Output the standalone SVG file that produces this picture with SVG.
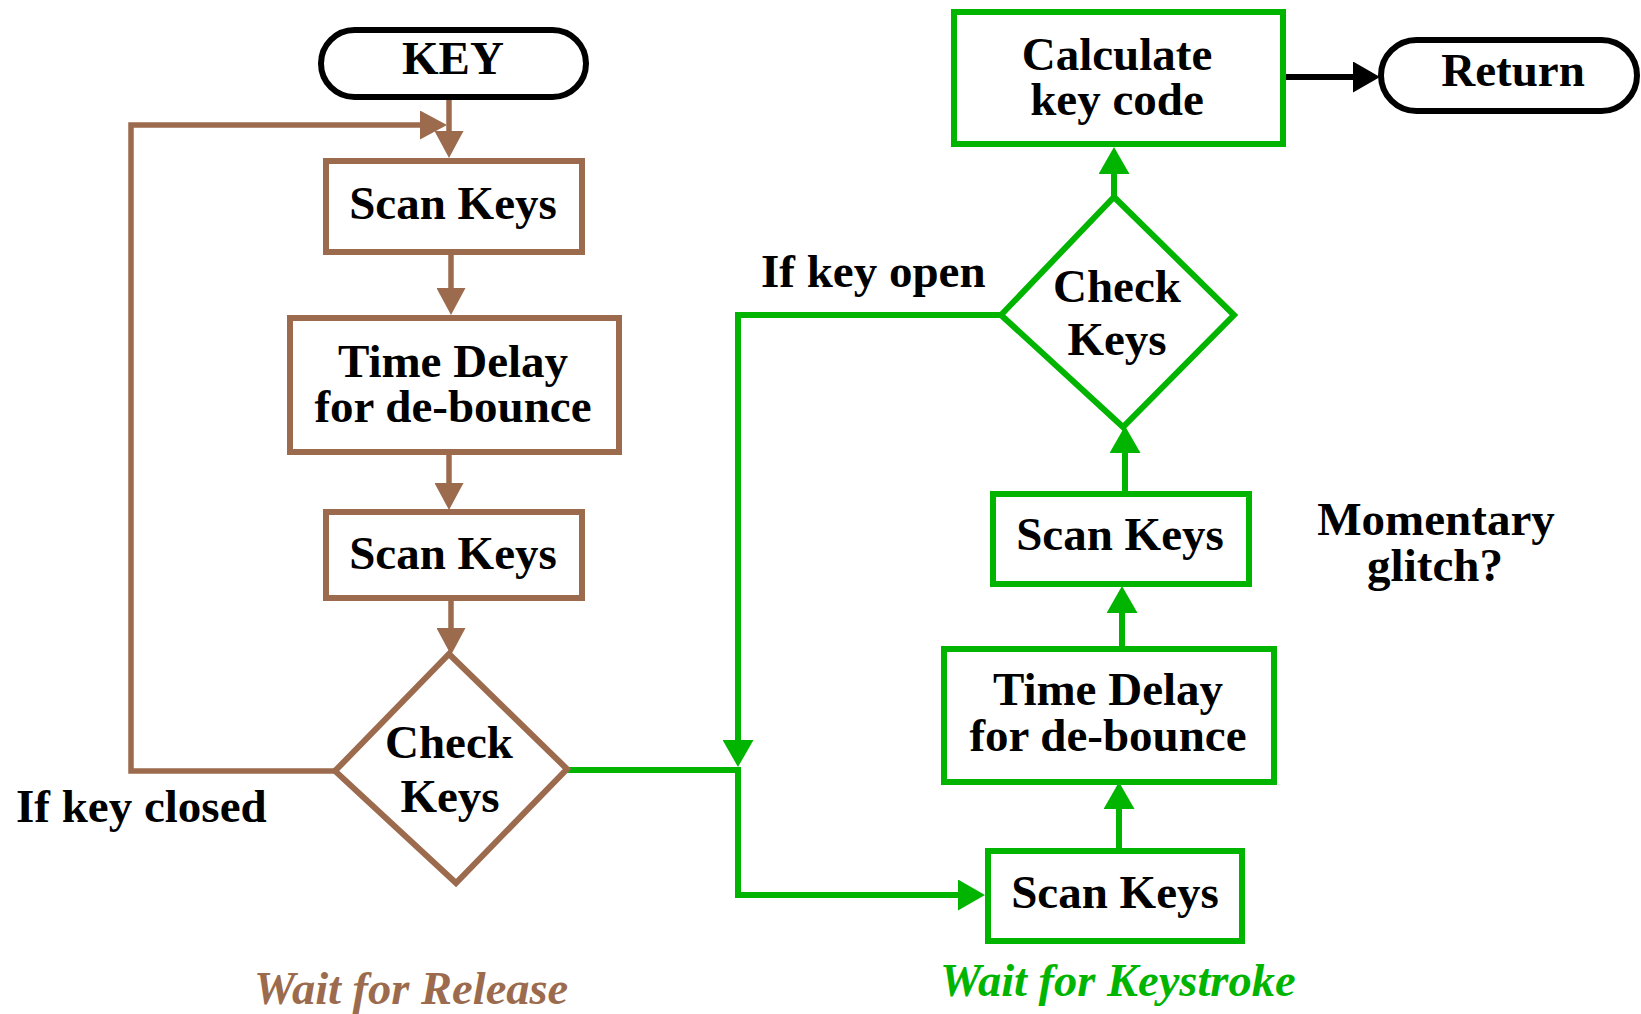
<svg xmlns="http://www.w3.org/2000/svg" width="1641" height="1014" viewBox="0 0 1641 1014">
<style>
text{font-family:"Liberation Serif","Times New Roman",serif;font-weight:bold;font-size:47px;fill:#000;text-anchor:middle}
.lbl{text-anchor:start}
.it{font-style:italic;text-anchor:start}
.br{fill:none;stroke:#9C6B4E;stroke-width:5.5}
.gr{fill:none;stroke:#00B400;stroke-width:6}
.bk{fill:none;stroke:#000;stroke-width:6}
.nb{fill:#fff;stroke:#9C6B4E;stroke-width:6}
.ng{fill:#fff;stroke:#00B400;stroke-width:6}
.nk{fill:#fff;stroke:#000;stroke-width:6}
</style>
<defs>
<marker id="ab" markerUnits="userSpaceOnUse" viewBox="0 0 27 29" refX="0" refY="14.5" markerWidth="27" markerHeight="29" orient="auto"><path d="M0,0 L27,14.5 L0,29 Z" fill="#9C6B4E"/></marker>
<marker id="ag" markerUnits="userSpaceOnUse" viewBox="0 0 27 31" refX="0" refY="15.5" markerWidth="27" markerHeight="31" orient="auto"><path d="M0,0 L27,15.5 L0,31 Z" fill="#00B400"/></marker>
<marker id="ak" markerUnits="userSpaceOnUse" viewBox="0 0 27 31" refX="0" refY="15.5" markerWidth="27" markerHeight="31" orient="auto"><path d="M0,0 L27,15.5 L0,31 Z" fill="#000"/></marker>
</defs>
<g id="connectors">
<path class="br" d="M449,99 V131" marker-end="url(#ab)"/>
<path class="br" d="M335,771 H131 V125 H420" marker-end="url(#ab)"/>
<path class="br" d="M451,253 V288" marker-end="url(#ab)"/>
<path class="br" d="M449,453 V483" marker-end="url(#ab)"/>
<path class="br" d="M451,599 V628" marker-end="url(#ab)"/>
<path class="gr" d="M567,770 H738 V895 H958" marker-end="url(#ag)"/>
<path class="gr" d="M1001,315 H738 V740" marker-end="url(#ag)"/>
<path class="gr" d="M1119,850 V809" marker-end="url(#ag)"/>
<path class="gr" d="M1122,648 V613" marker-end="url(#ag)"/>
<path class="gr" d="M1125,493 V453" marker-end="url(#ag)"/>
<path class="gr" d="M1114,197 V174" marker-end="url(#ag)"/>
<path class="bk" d="M1284,77 H1353" marker-end="url(#ak)"/>
</g>
<g id="key"><rect class="nk" x="321" y="30" width="265" height="67" rx="33.5"/><text x="453" y="74">KEY</text></g>
<g id="scan1"><rect class="nb" x="326" y="161" width="256" height="91"/><text x="453" y="219">Scan Keys</text></g>
<g id="delay1"><rect class="nb" x="290" y="318" width="329" height="134"/><text x="453" y="377">Time Delay</text><text x="453" y="422">for de-bounce</text></g>
<g id="scan2"><rect class="nb" x="326" y="512" width="256" height="86"/><text x="453" y="569">Scan Keys</text></g>
<g id="check1"><polygon class="nb" points="449,654 567,769 456,883 335,771"/><text x="449" y="758">Check</text><text x="450" y="812">Keys</text></g>
<g id="calc"><rect class="ng" x="954" y="12" width="329" height="132"/><text x="1117" y="70">Calculate</text><text x="1117" y="115">key code</text></g>
<g id="return"><rect class="nk" x="1381" y="40" width="256" height="71" rx="35.5"/><text x="1513" y="86">Return</text></g>
<g id="check2"><polygon class="ng" points="1114,197 1234,315 1123,427 1001,315"/><text x="1117" y="302">Check</text><text x="1117" y="355">Keys</text></g>
<g id="scan3"><rect class="ng" x="993" y="494" width="256" height="90"/><text x="1120" y="550">Scan Keys</text></g>
<g id="delay2"><rect class="ng" x="944" y="649" width="330" height="133"/><text x="1108" y="705">Time Delay</text><text x="1108" y="751">for de-bounce</text></g>
<g id="scan4"><rect class="ng" x="988" y="851" width="254" height="90"/><text x="1115" y="908">Scan Keys</text></g>
<g id="labels">
<text class="lbl" x="16" y="822">If key closed</text>
<text class="lbl" x="761" y="287">If key open</text>
<text x="1436" y="535">Momentary</text>
<text x="1435" y="581">glitch?</text>
<text class="it" x="254" y="1004" style="font-size:46.5px;fill:#9C6B4E">Wait for Release</text>
<text class="it" x="940" y="996" style="font-size:46.5px;fill:#00B400">Wait for Keystroke</text>
</g>
</svg>
